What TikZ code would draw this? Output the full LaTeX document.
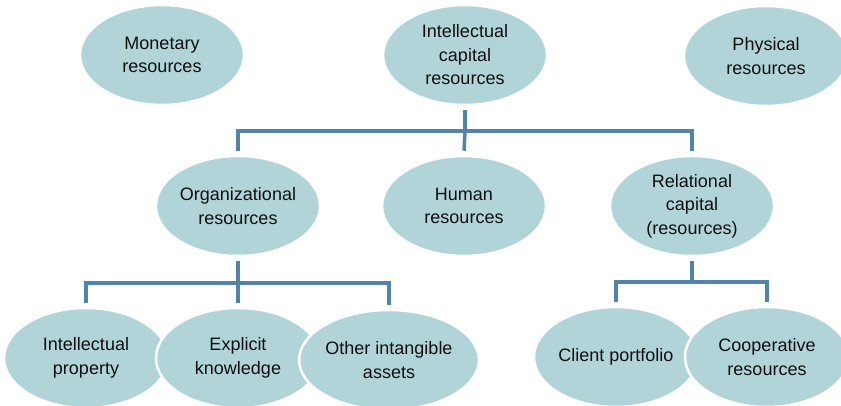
\documentclass[tikz,border=0pt]{standalone}
\usepackage{fontspec}
\setmainfont{Liberation Sans}
\usetikzlibrary{shapes.geometric}
\definecolor{ellfill}{RGB}{177,212,216}
\definecolor{linkcol}{RGB}{82,131,170}
\definecolor{txtcol}{RGB}{15,15,15}
\begin{document}
\begin{tikzpicture}[x=1pt,y=-1pt,
  res/.style={ellipse, fill=ellfill, draw=white, line width=2.5pt,
    minimum width=164pt, minimum height=100pt, inner sep=0pt,
    align=center, text=txtcol,
    font=\fontsize{18pt}{23.5pt}\selectfont},
  link/.style={draw=linkcol, line width=3.5pt}]
\useasboundingbox (0,0) rectangle (841,406);
\begin{scope}
\clip (0,0) rectangle (841,406);
% top row
\node[res] (mon) at (162,55) {Monetary\\resources};
\node[res] (icr) at (465,55) {Intellectual\\capital\\resources};
\node[res] (phy) at (766,56) {Physical\\resources};
% middle row
\node[res] (org) at (238,206) {Organizational\\resources};
\node[res] (hum) at (464,206) {Human\\resources};
\node[res] (rel) at (692,206) {Relational\\capital\\(resources)};
% bottom row left
\node[res] (ip) at (86,358) {Intellectual\\property};
\node[res] (ek) at (238,358) {Explicit\\knowledge};
\node[res] (oia) at (389,360) {Other intangible\\assets};
% bottom row right
\node[res] (cp) at (616,357) {Client portfolio};
\node[res] (coop) at (767,357) {Cooperative\\resources};
% connectors
\coordinate (b1) at (465,131);
\coordinate (b2) at (238,283);
\coordinate (b3) at (692,282);
\draw[link] (icr.south) ++(0,4) -- (b1);
\draw[link] ([yshift=4pt]org.north) |- (b1) -| ([yshift=4pt]rel.north);
\draw[link] (b1) -- ([yshift=4pt]hum.north);
\draw[link] (org.south) ++(0,4) -- (b2);
\draw[link] ([yshift=4pt]ip.north) |- (b2) -| ([yshift=4pt]oia.north);
\draw[link] (b2) -- ([yshift=4pt]ek.north);
\draw[link] (rel.south) ++(0,4) -- (b3);
\draw[link] ([yshift=4pt]cp.north) |- (b3) -| ([yshift=4pt]coop.north);
\end{scope}
\end{tikzpicture}
\end{document}
